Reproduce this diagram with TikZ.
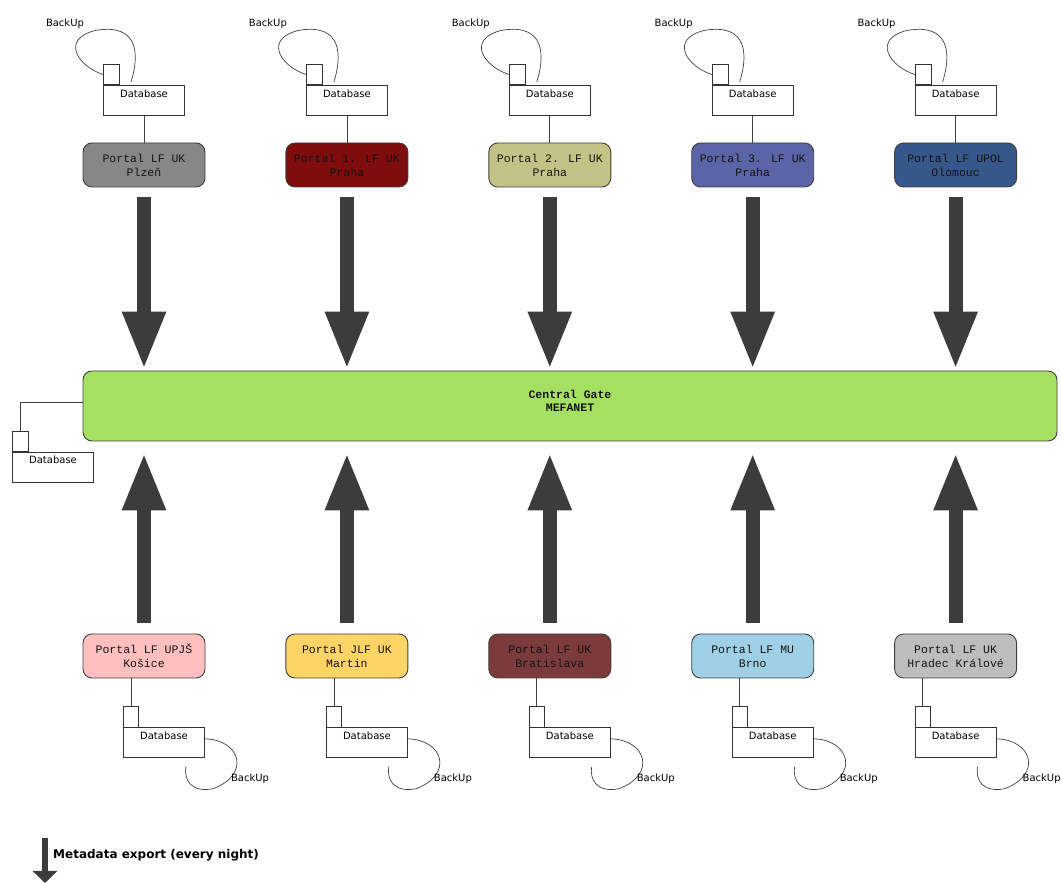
\documentclass[tikz,border=0pt]{standalone}
\usepackage{fontspec}
\setmainfont{DejaVu Sans}
\newfontfamily\portalmono{Liberation Mono}
\usetikzlibrary{positioning,arrows.meta}
\definecolor{edge}{HTML}{3F3F3F}
\definecolor{ink}{HTML}{141414}
\definecolor{flowgray}{HTML}{3C3C3C}
\definecolor{gategreen}{HTML}{A5E063}
\definecolor{plzen}{HTML}{878787}
\definecolor{prahaone}{HTML}{800D0D}
\definecolor{prahatwo}{HTML}{C3C387}
\definecolor{prahathree}{HTML}{5A64A6}
\definecolor{olomouc}{HTML}{36578A}
\definecolor{kosice}{HTML}{FFBFBF}
\definecolor{martin}{HTML}{FFD466}
\definecolor{bratislava}{HTML}{7B3B3B}
\definecolor{brno}{HTML}{A0D0E6}
\definecolor{hradec}{HTML}{BDBDBD}

\begin{document}
\begin{tikzpicture}[x=1pt,y=1pt,font=\fontsize{10}{12}\selectfont,
  portal/.style={draw=edge,line width=0.9pt,rounded corners=9pt,minimum width=122pt,minimum height=44pt,inner sep=0pt,align=center,text=ink,font=\portalmono\fontsize{11.5}{14}\selectfont},
  gatebox/.style={draw=edge,line width=0.9pt,rounded corners=9pt,fill=gategreen,minimum width=974pt,minimum height=70pt,inner sep=0pt,text=ink,font=\portalmono\bfseries\fontsize{11.5}{13}\selectfont},
  db/.style={draw=black!80,line width=0.7pt,fill=white,minimum width=81pt,inner xsep=0pt,inner ysep=0pt,text height=12pt,text depth=18pt},
  dbtab/.style={draw=black!80,line width=0.7pt,fill=white,minimum width=16pt,minimum height=20pt,inner sep=0pt},
  wire/.style={draw=black!75,line width=0.7pt},
  flow/.style={draw=flowgray,line width=14pt,-{Triangle[length=58pt,width=40pt]}},
  lbl/.style={inner sep=0pt}]
  \useasboundingbox (0,0) rectangle (1061,883);

  % central gate
  \node[gatebox] (g) at (570,477) {\raisebox{1pt}[0pt][0pt]{\begin{tabular}{@{}c@{}}Central Gate\\MEFANET\end{tabular}}};
  \node[db] (d0) at (53,416) {Database};
  \node[dbtab,above right=0pt of d0.north west] (t0) {};
  \draw[wire] ([yshift=4pt]g.west) -| (t0.north);

  % portals above the gate
  \node[portal,fill=plzen] (p1) at (144,718) {Portal LF UK\\Plzeň};
  \node[portal,fill=prahaone,right=80pt of p1] (p2) {Portal 1. LF UK\\Praha};
  \node[portal,fill=prahatwo,right=80pt of p2] (p3) {Portal 2. LF UK\\Praha};
  \node[portal,fill=prahathree,right=80pt of p3] (p4) {Portal 3. LF UK\\Praha};
  \node[portal,fill=olomouc,right=80pt of p4] (p5) {Portal LF UPOL\\Olomouc};

  % portals below the gate
  \node[portal,fill=kosice] (p6) at (144,227) {Portal LF UPJŠ\\Košice};
  \node[portal,fill=martin,right=80pt of p6] (p7) {Portal JLF UK\\Martin};
  \node[portal,fill=bratislava,right=80pt of p7] (p8) {Portal LF UK\\Bratislava};
  \node[portal,fill=brno,right=80pt of p8] (p9) {Portal LF MU\\Brno};
  \node[portal,fill=hradec,right=80pt of p9] (p10) {Portal LF UK\\Hradec Králové};

  % databases of the upper portals
  \foreach \p in {1,...,5}{
    \node[db,above=27pt of p\p] (d\p) {Database};
    \node[dbtab,above right=0pt of d\p.north west] (t\p) {};
    \draw[wire] (d\p) -- (p\p);
    \draw[wire] (t\p.west) .. controls +(-25,8) and +(-35,-9) .. ++(-8,44)
      .. controls +(45,8) and +(8,25) .. ([xshift=-13pt,yshift=3pt]d\p.north);
    \node[lbl,above left=35pt and 19pt of t\p.north west] (b\p) {BackUp};
    \draw[flow,shorten <=10pt,shorten >=1pt] (p\p) -- (p\p |- g.north);
  }

  % databases of the lower portals
  \foreach \p/\s in {6/20,7/20,8/20,9/20,10/0}{
    \node[db,below=49pt of p\p,xshift=\s pt] (d\p) {Database};
    \node[dbtab,minimum height=21pt,minimum width=15pt,above right=0pt of d\p.north west] (t\p) {};
    \draw[wire] (t\p.north) -- (t\p.north |- p\p.south);
    \draw[wire] ([yshift=4pt]d\p.east) .. controls +(36,-1) and +(38,14) .. ++(8,-50)
      .. controls +(-22,-4) and +(-2,-13) .. ++(-27,22);
    \node[lbl,below right=16pt and 26pt of d\p.south east] (b\p) {BackUp};
    \draw[flow,shorten <=11pt,shorten >=11pt] (p\p) -- (p\p |- g.south);
  }

  % legend
  \coordinate (k1) at (45,45);
  \coordinate (k2) at (45,0);
  \draw[flow,line width=6pt,-{Triangle[length=12pt,width=24pt]}] (k1) -- (k2);
  \node[lbl,anchor=west,font=\bfseries\fontsize{12}{14}\selectfont] (kt) at (53,28) {Metadata export (every night)};
\end{tikzpicture}
\end{document}
